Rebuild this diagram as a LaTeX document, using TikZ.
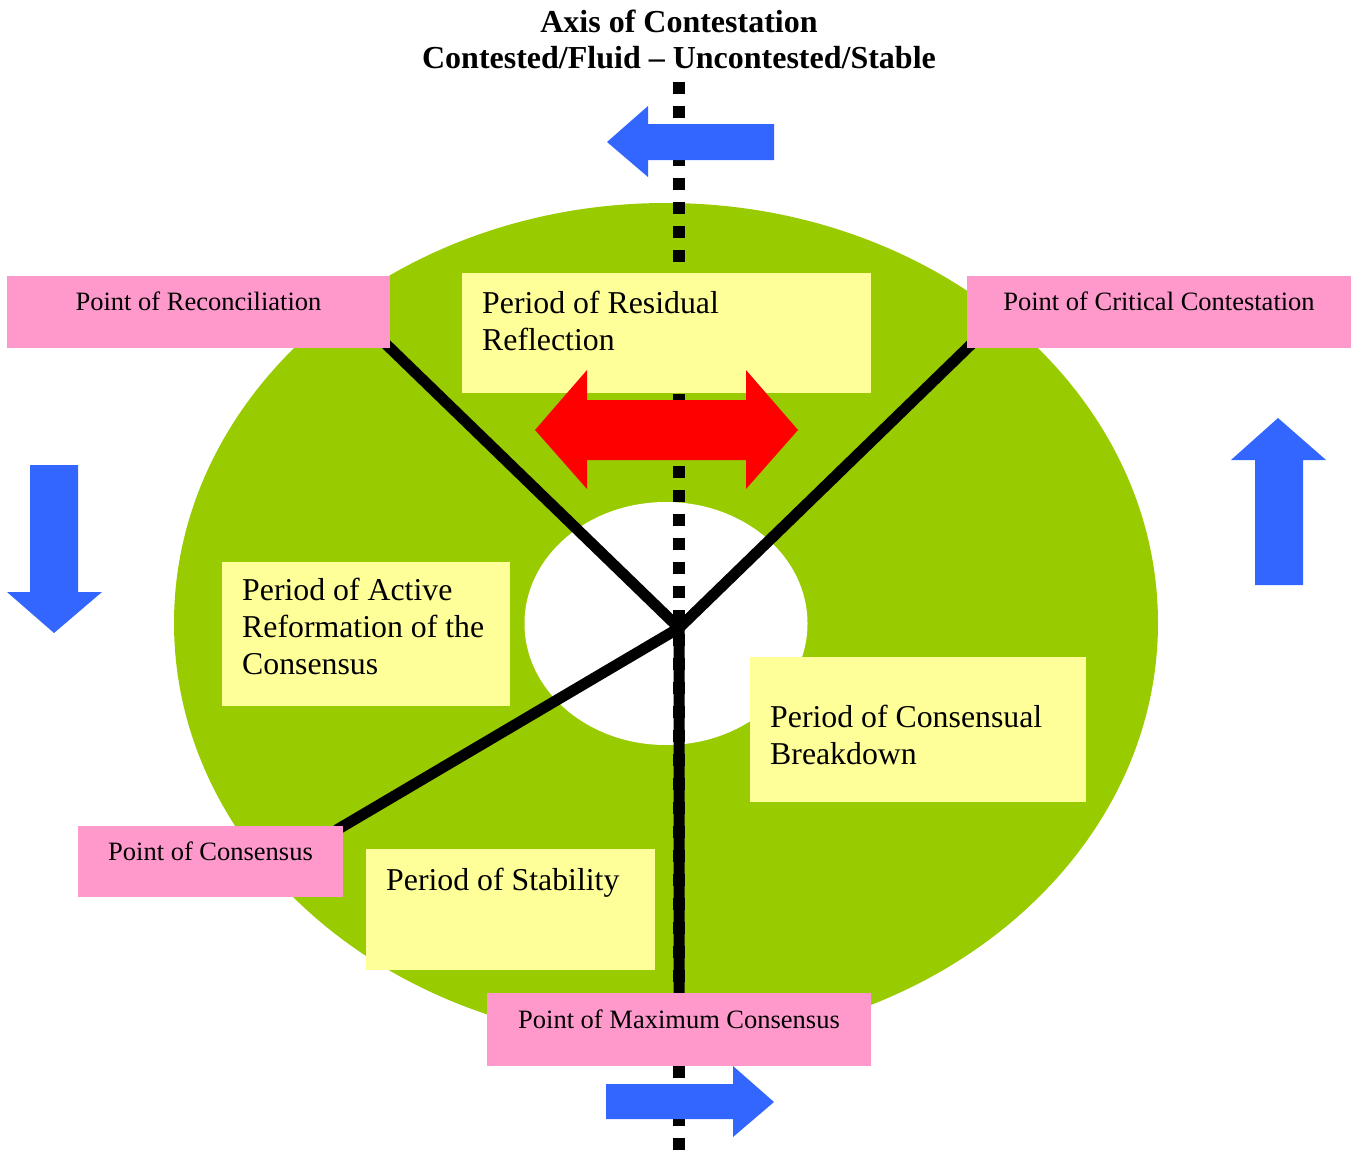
\documentclass[tikz,border=0pt]{standalone}
\usepackage{fontspec}
\setmainfont{Liberation Serif}
\usetikzlibrary{calc}
\definecolor{cgreen}{HTML}{99CC00}
\definecolor{cyellow}{HTML}{FFFF99}
\definecolor{cpink}{HTML}{FF99CC}
\definecolor{cblue}{HTML}{3366FF}
\definecolor{cred}{HTML}{FF0000}
\pgfdeclarelayer{back}
\pgfsetlayers{back,main}
\begin{document}
\begin{tikzpicture}[x=1pt,y=-1pt,
  pbox/.style={fill=cpink, draw=none, inner sep=0pt, anchor=north west},
  ybox/.style={fill=cyellow, draw=none, inner sep=0pt, anchor=north west},
  ptext/.style={font=\fontsize{26.5}{31}\selectfont, inner sep=0pt, anchor=base},
  ytext/.style={font=\fontsize{31.8}{37}\selectfont, align=left, inner sep=0pt, anchor=base west},
  spoke/.style={line width=11pt, black},
  axisline/.style={line width=12pt, black, dash pattern=on 12pt off 12pt},
  bluearrow/.style={fill=cblue, draw=none},
  redarrow/.style={fill=cred, draw=none}]
\useasboundingbox (0,0) rectangle (1353,1162);

% title (base anchor = baseline of last line)
\node[font=\bfseries\fontsize{32}{36}\selectfont, align=center, inner sep=0pt, anchor=base] (title) at (679,68)
  {Axis of Contestation\\Contested/Fluid -- Uncontested/Stable};

% key coordinates
\coordinate (ctr) at (679,628);
\coordinate (axtop) at (679,82);
\coordinate (axbot) at (679,1162);

% yellow period boxes
\node[ybox, minimum width=409pt, minimum height=120pt] (res) at (462,273) {};
\node[ybox, minimum width=288pt, minimum height=144pt] (act) at (222,562) {};
\node[ybox, minimum width=336pt, minimum height=145pt] (brk) at (750,657) {};
\node[ybox, minimum width=289pt, minimum height=121pt] (stab) at (366,849) {};
\node[ytext] (rest) at (482,350) {Period of Residual\\Reflection};
\node[ytext] (actt) at (242,674) {Period of Active\\Reformation of the\\Consensus};
\node[ytext] (brkt) at (770,764) {Period of Consensual\\Breakdown};
\node[ytext] (stabt) at (386,890) {Period of Stability};

% red double arrow
\fill[redarrow] (535,430) -- (587,370) -- (587,400) -- (746,400) -- (746,370) -- (798,430)
  -- (746,489) -- (746,460) -- (587,460) -- (587,489) -- cycle;

% pink point boxes
\node[pbox, minimum width=383pt, minimum height=72pt] (recon) at (7,276) {};
\node[pbox, minimum width=384pt, minimum height=72pt] (crit) at (967,276) {};
\node[pbox, minimum width=265pt, minimum height=71pt] (cons) at (78,826) {};
\node[pbox, minimum width=384pt, minimum height=73pt] (maxc) at (487,993) {};
\node[ptext] (recont) at (198.5,310) {Point of Reconciliation};
\node[ptext] (critt) at (1159,310) {Point of Critical Contestation};
\node[ptext] (const) at (210.5,860) {Point of Consensus};
\node[ptext] (maxct) at (679,1028) {Point of Maximum Consensus};

% blue arrows
\fill[bluearrow] (607,142) -- (648,106) -- (648,124) -- (774,124) -- (774,160) -- (648,160) -- (648,177) -- cycle;
\fill[bluearrow] (30,465) -- (78,465) -- (78,592) -- (102,592) -- (54,633) -- (7,592) -- (30,592) -- cycle;
\fill[bluearrow] (1278,418) -- (1326,460) -- (1303,460) -- (1303,585) -- (1255,585) -- (1255,460) -- (1231,460) -- cycle;
\fill[bluearrow] (606,1084) -- (733,1084) -- (733,1066) -- (774,1102) -- (733,1137) -- (733,1119) -- (606,1119) -- cycle;

% background: disc, hole, axis, spokes
\begin{pgfonlayer}{back}
  \fill[cgreen] (666,623) ellipse [x radius=492, y radius=420];
  \fill[white] (666,623.5) ellipse [x radius=141.5, y radius=121.5];
  \draw[axisline] (axtop) -- (axbot);
  \draw[spoke, shorten >=-8pt] (ctr) -- (recon.south east);
  \draw[spoke, shorten >=-8pt] (ctr) -- (crit.south west);
  \draw[spoke, shorten >=-8pt] (ctr) -- (cons.north east);
  \draw[spoke, shorten >=-8pt] (ctr) -- (maxc.north);
\end{pgfonlayer}
\end{tikzpicture}
\end{document}
